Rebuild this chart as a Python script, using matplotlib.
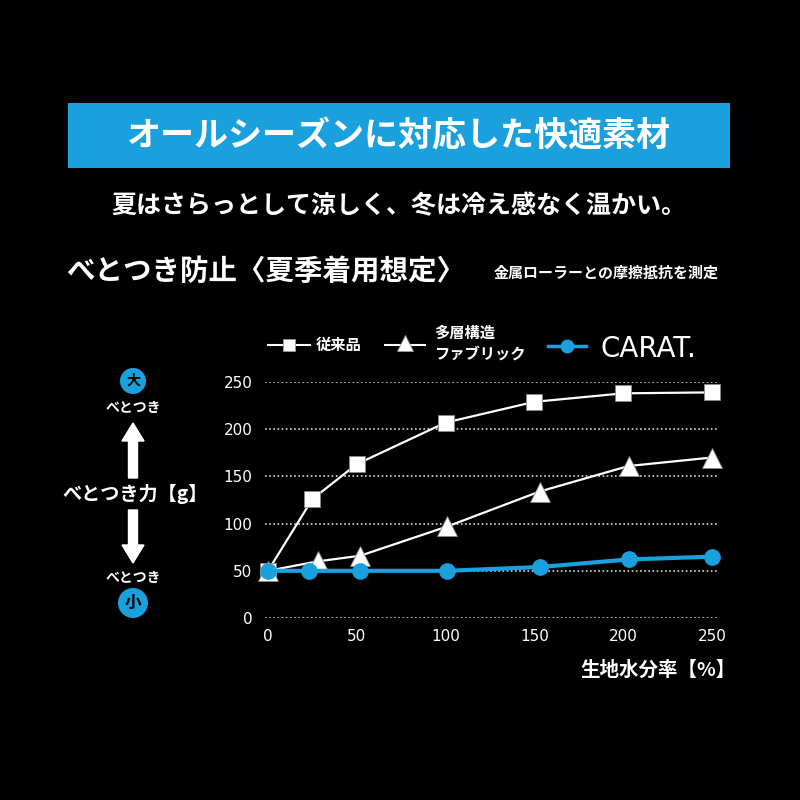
import matplotlib.pyplot as plt
from matplotlib.patches import Rectangle, Circle, FancyArrow
from matplotlib.lines import Line2D

plt.rcParams['font.family'] = ['Noto Sans CJK JP', 'DejaVu Sans']

# --- data ---
x_conv = [0, 25, 50, 100, 150, 200, 250]
y_conv = [50, 126, 163, 207, 229, 238, 239]      # 従来品
x_multi = [0, 28, 52, 101, 153, 203, 250]
y_multi = [50, 60, 66, 97, 134, 161, 170]        # 多層構造ファブリック
x_carat = [0, 23, 52, 101, 153, 203, 250]
y_carat = [50, 50, 50, 50, 54, 62, 65]           # CARAT.
x_ticks = [0, 50, 100, 150, 200, 250]
y_ticks = [0, 50, 100, 150, 200, 250]

BLUE = '#1aa0dc'
BG = 'black'

fig = plt.figure(figsize=(8, 8), dpi=100, facecolor=BG)

# overlay in pixel coords for the decorative text
ov = fig.add_axes([0, 0, 1, 1])
ov.set_xlim(0, 800)
ov.set_ylim(800, 0)
ov.axis('off')

ov.add_patch(Rectangle((68, 103), 662, 65, facecolor=BLUE, edgecolor='none'))
ov.text(399, 136, 'オールシーズンに対応した快適素材', color='white', fontsize=24.5,
        fontweight='bold', ha='center', va='center')
ov.text(399, 206, '夏はさらっとして涼しく、冬は冷え感なく温かい。', color='white',
        fontsize=18, fontweight='bold', ha='center', va='center')
ov.text(66, 272, 'べとつき防止〈夏季着用想定〉', color='white', fontsize=20.5,
        fontweight='bold', ha='left', va='center')
ov.text(494, 273, '金属ローラーとの摩擦抵抗を測定', color='white', fontsize=10.8,
        fontweight='bold', ha='left', va='center')

# legend
ov.add_line(Line2D([268, 310], [345, 345], color='white', lw=1.5))
ov.plot(289, 345, marker='s', ms=9, color='white', mec='#999999', mew=0.6)
ov.text(316, 345, '従来品', color='white', fontsize=11, fontweight='bold', va='center')
ov.add_line(Line2D([385, 425], [345, 345], color='white', lw=1.5))
ov.plot(405, 343, marker='^', ms=12, color='white', mec='#999999', mew=0.6)
ov.text(434, 333, '多層構造', color='white', fontsize=11, fontweight='bold', va='center')
ov.text(434, 354, 'ファブリック', color='white', fontsize=11, fontweight='bold', va='center')
ov.add_line(Line2D([548, 586], [346, 346], color=BLUE, lw=2.5))
ov.plot(567, 346, marker='o', ms=9, color=BLUE)
ov.text(600, 349, 'CARAT.', color='white', fontsize=20, va='center',
        family=['DejaVu Sans'])

# left side: sticky force indicator
ov.add_patch(Circle((133, 381), 13, facecolor=BLUE, edgecolor='none'))
ov.text(133, 381, '大', color='black', fontsize=10, fontweight='bold', ha='center', va='center')
ov.text(133, 408, 'べとつき', color='white', fontsize=10, fontweight='bold', ha='center', va='center')
ov.add_patch(FancyArrow(133, 478, 0, -55, width=9, head_width=22, head_length=18,
                        length_includes_head=True, color='white'))
ov.text(135, 494, 'べとつき力【g】', color='white', fontsize=13.8, fontweight='bold',
        ha='center', va='center')
ov.add_patch(FancyArrow(133, 510, 0, 53, width=9, head_width=22, head_length=18,
                        length_includes_head=True, color='white'))
ov.text(133, 578, 'べとつき', color='white', fontsize=10, fontweight='bold', ha='center', va='center')
ov.add_patch(Circle((133, 603), 15, facecolor=BLUE, edgecolor='none'))
ov.text(133, 603, '小', color='black', fontsize=12, fontweight='bold', ha='center', va='center')

ov.text(658, 670, '生地水分率【%】', color='white', fontsize=14, fontweight='bold',
        ha='center', va='center')

# --- chart ---
ax = fig.add_axes([265 / 800, 1 - 618 / 800, 453 / 800, 236 / 800])
ax.set_facecolor('none')
ax.set_xlim(-1.7, 253.4)
ax.set_ylim(0, 250)
ax.set_yticks(y_ticks)
ax.set_xticks(x_ticks)
for s in ax.spines.values():
    s.set_visible(False)
ax.tick_params(length=0, colors='white', labelsize=11)
ax.tick_params(axis='x', pad=8)
ax.tick_params(axis='y', pad=9)
for lbl in ax.get_xticklabels() + ax.get_yticklabels():
    lbl.set_family(['DejaVu Sans'])
ax.yaxis.grid(True, color='white', ls=(0, (1, 1.5)), lw=1.2, alpha=0.85)
ax.set_axisbelow(True)

ax.plot(x_conv, y_conv, color='white', lw=1.6, marker='s', ms=11,
        mfc='white', mec='#888888', mew=0.6, clip_on=False, zorder=3)
ax.plot(x_multi, y_multi, color='white', lw=1.6, marker='^', ms=14,
        mfc='white', mec='#888888', mew=0.6, clip_on=False, zorder=3)
ax.plot(x_carat, y_carat, color=BLUE, lw=3, marker='o', ms=11,
        clip_on=False, zorder=4)

fig.savefig('out.png', dpi=100, facecolor=BG)
